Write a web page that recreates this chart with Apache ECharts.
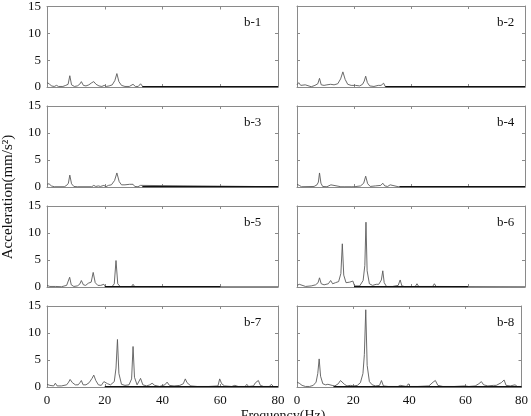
<!DOCTYPE html>
<html>
<head>
<meta charset="utf-8">
<script src="https://cdn.jsdelivr.net/npm/echarts@6/dist/echarts.min.js"></script>
<style>
	html, body { margin: 0; padding: 0; background: #fff; }
	#chart { width: 531px; height: 416px; }
</style>
</head>
<body>
<div id="chart"></div>
<script>
var panelNames = ['b-1', 'b-2', 'b-3', 'b-4', 'b-5', 'b-6', 'b-7', 'b-8'];
var xTicks = [0, 20, 40, 60, 80];
var yTicks = [0, 5, 10, 15];

// [frequency (Hz), acceleration (mm/s2)]
var b1 = [[0,0.8],[0.8,0.6],[1.5,0.2],[2.5,0.1],[3.3,0.3],[4,0.1],[5.5,0.1],[6.5,0.3],[7.3,0.5],[7.9,2.1],[8.5,0.4],[9.5,0.1],[10.5,0.2],[11.3,0.5],[11.9,1.0],[12.6,0.3],[13.5,0.2],[14.5,0.4],[15.5,0.8],[16.2,1.0],[17,0.5],[18,0.2],[19,0.1],[19.8,0.3],[20.5,0.1],[21.5,0.2],[22.6,0.4],[23.5,1.2],[24.2,2.5],[24.9,1.0],[25.8,0.3],[27,0.1],[28.5,0.1],[29.8,0.5],[30.6,0.1],[31.6,0.1],[32.4,0.6],[33.2,0.05],[80,0.05]];
var b2 = [[0,0.4],[0.6,0.8],[1.3,0.3],[2,0.1],[2.9,0.4],[3.6,0.05],[5,0.05],[6.3,0.3],[7.3,0.6],[7.9,1.6],[8.5,0.4],[9.5,0.3],[10.5,0.4],[11.8,0.5],[13,0.4],[14.3,0.6],[15.3,1.5],[16.1,2.8],[16.9,1.4],[17.8,0.5],[19,0.3],[20.5,0.3],[22,0.2],[23,0.5],[23.6,1.1],[24.1,2.0],[24.7,0.8],[25.5,0.2],[27,0.1],[28.5,0.3],[29.5,0.3],[30.4,0.7],[31,0.05],[80,0.05]];
var b3 = [[0,0.5],[0.7,0.6],[1.5,0.2],[2.5,0.05],[6,0.05],[6.8,0.3],[7.4,0.7],[7.9,2.2],[8.5,0.6],[9.3,0.1],[10.5,0.05],[15.5,0.05],[16.2,0.3],[16.9,0.1],[17.8,0.2],[18.5,0.1],[19.7,0.3],[20.4,0.05],[21.3,0.3],[22.3,0.4],[23.4,1.2],[24.2,2.6],[25,1.0],[25.8,0.4],[27,0.4],[28.6,0.5],[29.2,0.4],[29.8,0.5],[30.4,0.1],[31.5,0.05],[32.4,0.3],[33,0.05],[80,0.05]];
var b4 = [[0,0.5],[0.8,0.3],[1.6,0.05],[6,0.1],[7,0.4],[7.5,0.9],[7.9,2.6],[8.4,0.7],[9,0.1],[10.5,0.05],[11.9,0.4],[12.5,0.05],[15.4,0.05],[16.1,0.3],[16.8,0.05],[19,0.05],[19.6,0.3],[20.2,0.05],[22.3,0.2],[23.4,0.7],[24.1,2.0],[24.8,0.6],[25.7,0.1],[27.5,0.2],[29.4,0.3],[30.1,0.7],[30.8,0.2],[31.8,0.1],[32.7,0.4],[33.4,0.05],[35.5,0.05],[36.2,0.2],[36.8,0.05],[80,0.05]];
var b5 = [[0,0.3],[1,0.1],[3,0.1],[5,0.05],[6.8,0.3],[7.4,0.5],[7.85,1.8],[8.4,0.4],[9.3,0.1],[10.5,0.2],[11.3,0.5],[11.9,1.2],[12.6,0.4],[13.4,0.3],[14.3,0.7],[15.3,0.9],[16,2.7],[16.7,0.8],[17.6,0.3],[18.6,0.3],[19.7,0.5],[20.3,0.05],[22.5,0.05],[23.3,0.6],[23.9,4.9],[24.5,0.6],[25.4,0.05],[29.2,0.05],[29.8,0.5],[30.4,0.05],[31.4,0.05],[31.9,0.3],[32.4,0.05],[35.5,0.05],[36.1,0.4],[36.7,0.05],[47.3,0.05],[47.9,0.3],[48.5,0.05],[80,0.05]];
var b6 = [[0,0.3],[0.8,0.5],[1.5,0.2],[3,0.1],[5,0.2],[6.5,0.4],[7.4,0.8],[7.9,1.7],[8.5,0.6],[9.5,0.4],[11,0.6],[11.8,1.2],[12.5,0.6],[13.5,0.8],[14.6,1.0],[15.4,2.5],[15.9,8.0],[16.4,2.2],[17.2,0.8],[18.5,0.9],[19.6,1.1],[20.2,0.2],[22,0.2],[23.2,1.2],[23.8,4.0],[24.2,12.0],[24.6,3.0],[25.4,0.6],[26.5,0.3],[27.8,0.5],[28.7,0.5],[29.6,1.3],[30.1,3.0],[30.6,0.8],[31.4,0.1],[33.5,0.1],[35.5,0.3],[36.2,1.3],[36.8,0.2],[38,0.05],[41.5,0.1],[42.1,0.6],[42.7,0.1],[47.6,0.1],[48.2,0.6],[48.8,0.1],[80,0.05]];
var b7 = [[0,0.5],[1,0.3],[2.3,0.2],[2.9,0.7],[3.5,0.2],[5,0.2],[6.8,0.4],[7.5,0.9],[8,1.4],[8.8,0.8],[9.8,0.4],[10.8,0.4],[11.4,0.8],[11.9,1.2],[12.5,0.4],[13.5,0.4],[14.6,0.8],[15.6,1.6],[16.2,2.2],[16.9,1.2],[17.8,0.4],[18.8,0.3],[19.7,1.0],[20.3,0.9],[21,0.6],[22,0.4],[23.3,1.0],[23.9,3.5],[24.4,8.8],[24.9,2.5],[25.8,0.5],[27,0.3],[28.4,0.4],[29.3,1.5],[29.8,7.5],[30.3,1.8],[31.2,0.4],[32.4,1.6],[33.2,0.4],[34.5,0.2],[35.6,0.4],[36.4,0.7],[37.3,0.3],[39,0.1],[40.8,0.4],[41.6,0.9],[42.4,0.3],[44,0.2],[46,0.3],[47.2,0.6],[47.9,1.5],[48.5,0.8],[49.1,0.9],[49.8,0.2],[52,0.1],[56,0.1],[59.2,0.2],[59.8,1.5],[60.5,0.6],[61.5,0.2],[64,0.1],[65,0.3],[65.6,0.5],[66.2,0.1],[68.6,0.1],[69.2,0.5],[69.8,0.1],[71.5,0.2],[72.2,0.8],[72.7,0.6],[73.2,1.2],[73.9,0.3],[75,0.1],[77,0.1],[77.7,0.5],[78.4,0.1],[80,0.05]];
var b8 = [[0,0.9],[0.8,0.7],[1.8,0.3],[3,0.1],[4.5,0.1],[5.8,0.3],[6.8,0.9],[7.4,2.5],[7.9,5.2],[8.4,2.0],[9.2,0.6],[10.2,0.4],[11,0.5],[11.7,0.6],[12.5,0.3],[13.5,0.2],[14.7,0.6],[15.5,1.2],[16.1,1.4],[16.9,0.5],[17.8,0.2],[19,0.3],[19.6,0.6],[20.2,0.2],[21.5,0.3],[22.6,0.8],[23.5,2.5],[24.0,6.0],[24.5,14.3],[25.0,4.0],[25.8,1.0],[26.8,0.4],[28,0.2],[29.4,0.3],[30.1,1.2],[30.8,0.2],[32.5,0.1],[36,0.1],[36.8,0.3],[37.5,0.1],[39,0.1],[39.7,0.6],[40.3,0.1],[43,0.1],[47,0.2],[48.5,0.9],[49.3,1.2],[50.2,0.3],[52,0.1],[56,0.1],[59.8,0.2],[60.5,0.5],[61.2,0.1],[63.5,0.2],[64.8,0.6],[65.7,1.0],[66.5,0.4],[68,0.2],[70,0.3],[71,0.3],[72.8,0.8],[73.8,1.3],[74.5,0.3],[76,0.2],[77.7,0.4],[78.5,0.1],[80,0.1]];
var spectra = [b1, b2, b3, b4, b5, b6, b7, b8];

// dark stretches lying on the zero line
var baseRanges = [[33, 80], [31, 80], [33, 80], [36, 80], [20, 60], [20, 60], [20, 80], [13, 80]];

var font = '"Liberation Serif", "DejaVu Serif", serif';
var frameColor = '#8a8a8a';

function makeAxis(type, idx, pos, showLabel) {
	var isX = type == 'x';
	var ticks = isX ? xTicks : yTicks;
	return {
		type: 'value',
		gridIndex: idx,
		position: pos,
		min: ticks[0],
		max: ticks[ticks.length - 1],
		interval: ticks[1] - ticks[0],
		axisLine: { show: true, onZero: false, lineStyle: { color: frameColor, width: 1 } },
		axisTick: { show: true, inside: true, length: 3, lineStyle: { color: frameColor } },
		axisLabel: {
			show: showLabel,
			color: '#111',
			fontFamily: font,
			fontSize: 13,
			margin: isX ? 7 : 6
		},
		splitLine: { show: false }
	};
}

var grids = [], xAxes = [], yAxes = [], series = [], titles = [];
for (let i = 0; i < 8; i++) {
	let row = Math.floor(i / 2);
	let col = i % 2;
	grids.push({
		left: col ? 297 : 47,
		width: col ? 228 : 231,
		top: 6 + row * 100,
		height: 81
	});
	xAxes.push(makeAxis('x', i, 'bottom', row == 3));
	xAxes.push(makeAxis('x', i, 'top', false));
	yAxes.push(makeAxis('y', i, 'left', col == 0));
	yAxes.push(makeAxis('y', i, 'right', false));

	series.push({
		type: 'line',
		xAxisIndex: i * 2,
		yAxisIndex: i * 2,
		data: spectra[i],
		showSymbol: false,
		animation: false,
		lineStyle: { color: '#5a5a5a', width: 0.9 }
	});
	series.push({
		type: 'line',
		xAxisIndex: i * 2,
		yAxisIndex: i * 2,
		data: [[baseRanges[i][0], 0.08], [baseRanges[i][1], 0.08]],
		showSymbol: false,
		animation: false,
		lineStyle: { color: '#111', width: 1.3 }
	});

	titles.push({
		text: panelNames[i],
		left: col ? 497 : 244,
		top: 16 + row * 100,
		textStyle: { fontFamily: font, fontSize: 13, fontWeight: 'normal', color: '#111' },
		padding: 0
	});
}

var chart = echarts.init(document.getElementById('chart'));
chart.setOption({
	backgroundColor: '#fff',
	animation: false,
	title: titles,
	grid: grids,
	xAxis: xAxes,
	yAxis: yAxes,
	series: series,
	graphic: [{
		type: 'text',
		x: 8,
		y: 197,
		rotation: Math.PI / 2,
		style: {
			text: 'Acceleration(mm/s²)',
			font: '15px ' + font,
			fill: '#111',
			align: 'center',
			verticalAlign: 'middle'
		}
	}, {
		type: 'text',
		x: 283,
		y: 409,
		style: {
			text: 'Frequency(Hz)',
			font: '14px ' + font,
			fill: '#111',
			align: 'center',
			verticalAlign: 'top'
		}
	}]
});
</script>
</body>
</html>
